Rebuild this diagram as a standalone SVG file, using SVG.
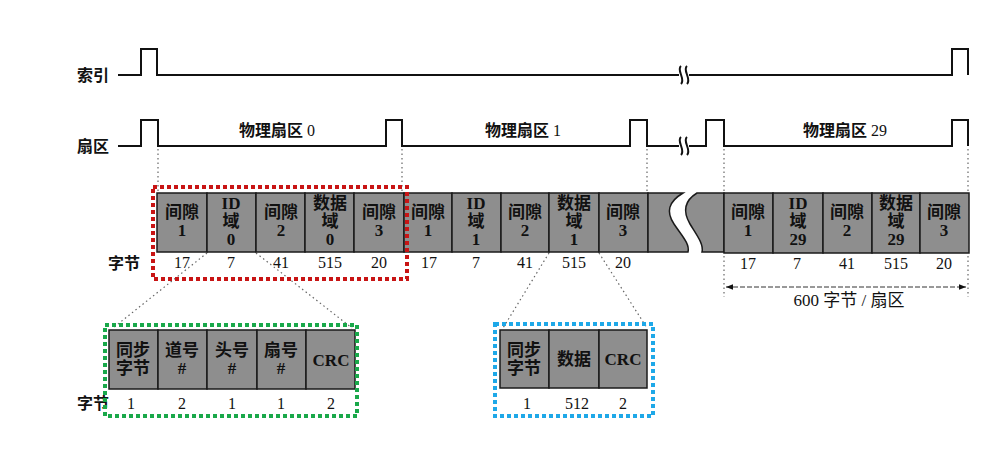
<svg xmlns="http://www.w3.org/2000/svg" width="1005" height="457" viewBox="0 0 1005 457">
<style>
.sig{fill:none;stroke:#111;stroke-width:2}
.cell{fill:#8e8e8e;stroke:#1a1a1a;stroke-width:1.5}
.ct{font-family:"Liberation Serif","Noto Sans CJK SC",serif;font-size:17px;font-weight:bold;fill:#111;text-anchor:middle}
.num{font-family:"Liberation Serif","Noto Sans CJK SC",serif;font-size:16px;fill:#111;text-anchor:middle}
.lbl{font-family:"Noto Sans CJK SC","Liberation Sans",sans-serif;font-size:16px;font-weight:bold;fill:#111}
.sl{font-family:"Liberation Serif","Noto Sans CJK SC",serif;font-size:16px;font-weight:bold;fill:#111;text-anchor:middle}
.dot{fill:none;stroke:#666;stroke-width:1.2;stroke-dasharray:1.5 3}
.box{fill:none;stroke-width:4;stroke-dasharray:4 3}
</style>
<defs>
<marker id="arr" viewBox="0 0 10 10" refX="10" refY="5" markerWidth="9" markerHeight="7" orient="auto-start-reverse" markerUnits="userSpaceOnUse">
<path d="M0,1 L10,5 L0,9 Z" fill="#111"/>
</marker>
</defs>
<rect width="1005" height="457" fill="#fff"/>

<g id="labels">
<text class="lbl" x="77" y="81">索引</text>
<text class="lbl" x="77" y="152">扇区</text>
<text class="lbl" x="108" y="269">字节</text>
<text class="lbl" x="77" y="409">字节</text>
</g>

<g id="index-signal">
<path class="sig" d="M118,75 H141 V49 H157 V75 H679"/>
<path class="sig" d="M689,75 H952 V49 H968 V75"/>
<path class="sig" stroke-width="1.6" d="M681,66 c-5,4 5,13 0,18 M687,66 c-5,4 5,13 0,18"/>
</g>

<g id="sector-signal">
<path class="sig" d="M118,146 H141 V120 H158 V146 H386 V120 H402 V146 H630 V120 H647 V146 H679"/>
<path class="sig" d="M689,146 H706 V120 H724 V146 H952 V120 H968 V146"/>
<path class="sig" stroke-width="1.6" d="M681,137 c-5,4 5,13 0,18 M687,137 c-5,4 5,13 0,18"/>
<text class="sl" x="277" y="136">物理扇区 <tspan font-weight="normal">0</tspan></text>
<text class="sl" x="523" y="136">物理扇区 <tspan font-weight="normal">1</tspan></text>
<text class="sl" x="845" y="136">物理扇区 <tspan font-weight="normal">29</tspan></text>
</g>

<g id="sector0">
<g id="s0-gap1"><rect class="cell" x="157" y="193" width="50" height="59"/><text class="ct" x="182" y="218">间隙</text><text class="ct" x="182" y="236">1</text></g>
<g id="s0-id"><rect class="cell" x="207" y="193" width="49" height="59"/><text class="ct" x="231" y="209">ID</text><text class="ct" x="231" y="227">域</text><text class="ct" x="231" y="245">0</text></g>
<g id="s0-gap2"><rect class="cell" x="256" y="193" width="49" height="59"/><text class="ct" x="281" y="218">间隙</text><text class="ct" x="281" y="236">2</text></g>
<g id="s0-data"><rect class="cell" x="305" y="193" width="49" height="59"/><text class="ct" x="330" y="209">数据</text><text class="ct" x="330" y="227">域</text><text class="ct" x="330" y="245">0</text></g>
<g id="s0-gap3"><rect class="cell" x="354" y="193" width="50" height="59"/><text class="ct" x="379" y="218">间隙</text><text class="ct" x="379" y="236">3</text></g>
<text class="num" x="182" y="268">17</text><text class="num" x="231" y="268">7</text><text class="num" x="281" y="268">41</text><text class="num" x="330" y="268">515</text><text class="num" x="379" y="268">20</text>
</g>

<g id="sector1">
<g id="s1-gap1"><rect class="cell" x="404" y="193" width="48" height="59"/><text class="ct" x="428" y="218">间隙</text><text class="ct" x="428" y="236">1</text></g>
<g id="s1-id"><rect class="cell" x="452" y="193" width="49" height="59"/><text class="ct" x="476" y="209">ID</text><text class="ct" x="476" y="227">域</text><text class="ct" x="476" y="245">1</text></g>
<g id="s1-gap2"><rect class="cell" x="501" y="193" width="48" height="59"/><text class="ct" x="525" y="218">间隙</text><text class="ct" x="525" y="236">2</text></g>
<g id="s1-data"><rect class="cell" x="549" y="193" width="50" height="59"/><text class="ct" x="574" y="209">数据</text><text class="ct" x="574" y="227">域</text><text class="ct" x="574" y="245">1</text></g>
<g id="s1-gap3"><rect class="cell" x="599" y="193" width="49" height="59"/><text class="ct" x="623" y="218">间隙</text><text class="ct" x="623" y="236">3</text></g>
<g id="s1-rest"><path class="cell" d="M648,193 H683 C668,202 666,212 674,224 C682,236 690,244 688,252 H648 Z"/></g>
<text class="num" x="429" y="268">17</text><text class="num" x="476" y="268">7</text><text class="num" x="525" y="268">41</text><text class="num" x="574" y="268">515</text><text class="num" x="623" y="268">20</text>
</g>

<g id="sector29">
<g id="s29-lead"><path class="cell" d="M697,193 H724 V252 H702 C704,244 696,234 690,224 C683,212 684,201 697,193 Z"/></g>
<g id="s29-gap1"><rect class="cell" x="724" y="193" width="49" height="60"/><text class="ct" x="748" y="218">间隙</text><text class="ct" x="748" y="236">1</text></g>
<g id="s29-id"><rect class="cell" x="773" y="193" width="50" height="60"/><text class="ct" x="798" y="209">ID</text><text class="ct" x="798" y="227">域</text><text class="ct" x="798" y="245">29</text></g>
<g id="s29-gap2"><rect class="cell" x="823" y="193" width="49" height="60"/><text class="ct" x="847" y="218">间隙</text><text class="ct" x="847" y="236">2</text></g>
<g id="s29-data"><rect class="cell" x="872" y="193" width="48" height="60"/><text class="ct" x="896" y="209">数据</text><text class="ct" x="896" y="227">域</text><text class="ct" x="896" y="245">29</text></g>
<g id="s29-gap3"><rect class="cell" x="920" y="193" width="49" height="60"/><text class="ct" x="944" y="218">间隙</text><text class="ct" x="944" y="236">3</text></g>
<text class="num" x="748" y="269">17</text><text class="num" x="797" y="269">7</text><text class="num" x="847" y="269">41</text><text class="num" x="896" y="269">515</text><text class="num" x="944" y="269">20</text>
</g>

<g id="id-field">
<g id="id-sync"><rect class="cell" x="109" y="330" width="49" height="59"/><text class="ct" x="133" y="356">同步</text><text class="ct" x="133" y="374">字节</text></g>
<g id="id-track"><rect class="cell" x="158" y="330" width="49" height="59"/><text class="ct" x="182" y="356">道号</text><text class="ct" x="182" y="374">#</text></g>
<g id="id-head"><rect class="cell" x="207" y="330" width="50" height="59"/><text class="ct" x="232" y="356">头号</text><text class="ct" x="232" y="374">#</text></g>
<g id="id-sector"><rect class="cell" x="257" y="330" width="49" height="59"/><text class="ct" x="281" y="356">扇号</text><text class="ct" x="281" y="374">#</text></g>
<g id="id-crc"><rect class="cell" x="306" y="330" width="49" height="59"/><text class="ct" x="331" y="366">CRC</text></g>
<text class="num" x="131" y="409">1</text><text class="num" x="182" y="409">2</text><text class="num" x="232" y="409">1</text><text class="num" x="281" y="409">1</text><text class="num" x="331" y="409">2</text>
</g>

<g id="data-field">
<g id="d-sync"><rect class="cell" x="500" y="330" width="49" height="58"/><text class="ct" x="524" y="356">同步</text><text class="ct" x="524" y="374">字节</text></g>
<g id="d-data"><rect class="cell" x="549" y="330" width="50" height="58"/><text class="ct" x="574" y="365">数据</text></g>
<g id="d-crc"><rect class="cell" x="599" y="330" width="48" height="58"/><text class="ct" x="623" y="365">CRC</text></g>
<text class="num" x="527" y="409">1</text><text class="num" x="577" y="409">512</text><text class="num" x="623" y="409">2</text>
</g>

<g id="dimension">
<line x1="726" y1="287" x2="966" y2="287" stroke="#333" stroke-width="1" stroke-dasharray="5 2" marker-start="url(#arr)" marker-end="url(#arr)"/>
<text class="sl" x="849" y="306" style="font-weight:normal;font-size:17px">600 字节 / 扇区</text>
</g>

<g id="connectors">
<line class="dot" x1="158" y1="149" x2="158" y2="192"/>
<line class="dot" x1="402" y1="149" x2="402" y2="192"/>
<line class="dot" x1="647" y1="149" x2="647" y2="192"/>
<line class="dot" x1="724" y1="149" x2="724" y2="192"/>
<line class="dot" x1="968" y1="149" x2="968" y2="192"/>
<line class="dot" x1="724" y1="256" x2="724" y2="297"/>
<line class="dot" x1="968" y1="256" x2="968" y2="297"/>
<line class="dot" x1="207" y1="253" x2="113" y2="328"/>
<line class="dot" x1="256" y1="253" x2="352" y2="328"/>
<line class="dot" x1="549" y1="253" x2="503" y2="328"/>
<line class="dot" x1="599" y1="253" x2="647" y2="328"/>
</g>

<g id="highlights">
<rect class="box" x="153" y="187" width="254" height="92" stroke="#c81414"/>
<rect class="box" x="105" y="325" width="252" height="91" stroke="#19a84a"/>
<rect class="box" x="495" y="324" width="158" height="92" stroke="#1ea8e8"/>
</g>
</svg>
